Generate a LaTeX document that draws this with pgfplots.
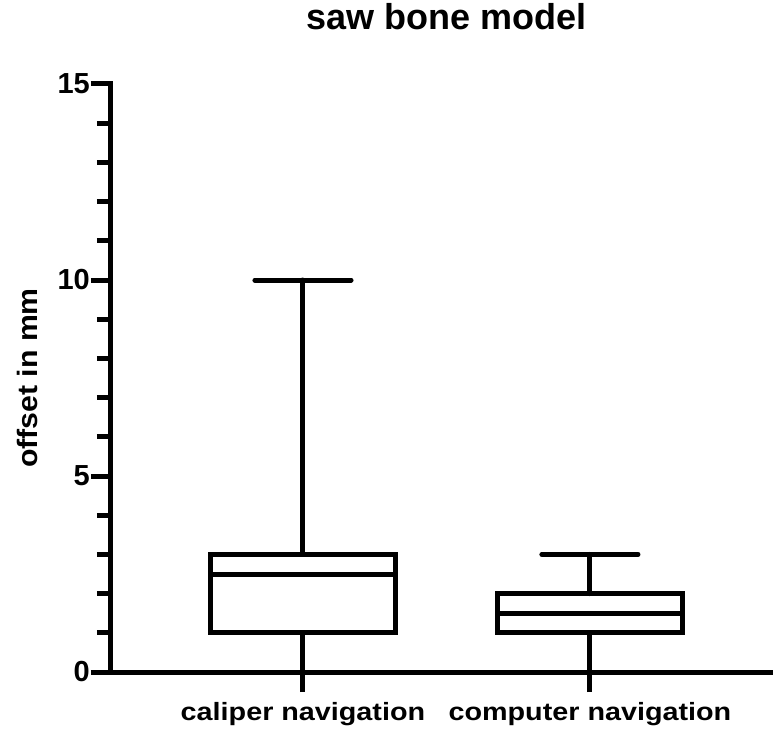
\documentclass[border=0pt]{standalone}
\usepackage{fontspec}
\setmainfont{Liberation Sans}
\newfontfamily\labfont[FakeStretch=1.15]{Liberation Sans}
\newfontfamily\ylabfont[FakeStretch=1.08]{Liberation Sans}
\usepackage{pgfplots}
\pgfplotsset{compat=1.18}
\usepgfplotslibrary{statistics}
\begin{document}
\begin{tikzpicture}
\begin{axis}[
  scale only axis, width=662pt, height=588pt,
  xmin=0.331, xmax=2.638, ymin=0, ymax=15,
  axis x line=bottom, axis y line=left,
  axis line style={-, line width=5pt, line cap=rect, black},
  ytick={0,5,10,15},
  minor ytick={1,2,3,4,6,7,8,9,11,12,13,14},
  xtick={1,2},
  xticklabels={caliper navigation, computer navigation},
  tick align=outside,
  major tick length=20pt, minor tick length=14pt,
  every tick/.style={black, line width=5pt},
  /pgf/number format/assume math mode=true,
  tick label style={font=\bfseries\fontsize{29}{29}\selectfont},
  yticklabel style={inner sep=1pt},
  xticklabel style={font=\labfont\bfseries\fontsize{25}{25}\selectfont, yshift=-7pt},
  ylabel={offset in mm},
  ylabel style={font=\ylabfont\bfseries\fontsize{28}{28}\selectfont, at={(rel axis cs:-0.1254,0.5)}, anchor=center, inner sep=0pt},
  title={saw bone model},
  title style={font=\bfseries\fontsize{36}{36}\selectfont, at={(rel axis cs:0.507,1.0833)}, anchor=base, inner sep=0pt},
  clip=false,
  boxplot/draw direction=y,
  boxplot/box extend=0.645,
  boxplot/whisker extend=0.335,
  boxplot/every whisker/.style={line cap=round},
]
\addplot[black, line width=5pt, solid, mark=none,
  boxplot prepared={lower whisker=0, lower quartile=1, median=2.5,
  upper quartile=3, upper whisker=10, draw position=1}] coordinates {};
\addplot[black, line width=5pt, solid, mark=none,
  boxplot prepared={lower whisker=0, lower quartile=1, median=1.5,
  upper quartile=2, upper whisker=3, draw position=2}] coordinates {};
\coordinate (bl) at (rel axis cs:0,0);
\coordinate (tr) at (rel axis cs:1,1);
\end{axis}
\pgfresetboundingbox
\path[use as bounding box] ([xshift=-111pt,yshift=-57pt]bl) rectangle ([yshift=84pt]tr);
\end{tikzpicture}
\end{document}
